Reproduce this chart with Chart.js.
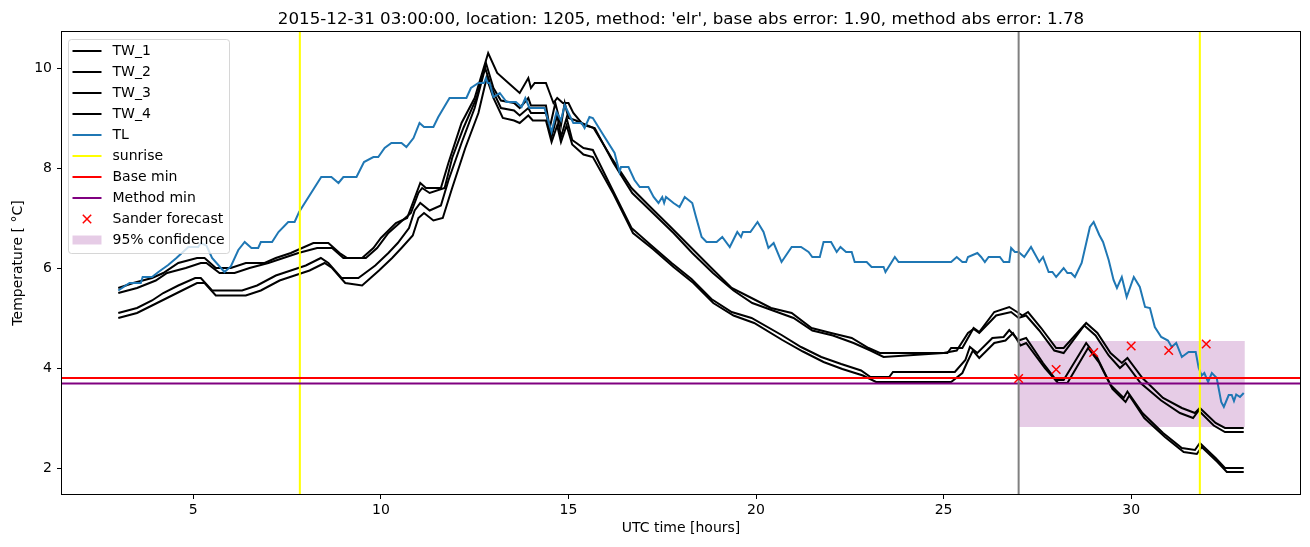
<!DOCTYPE html>
<html>
<head>
<meta charset="utf-8">
<title>TW / TL forecast 2015-12-31</title>
<script src="https://cdn.jsdelivr.net/npm/chart.js@4.4.1/dist/chart.umd.min.js"></script>
<style>
  body { margin: 0; background: #fff; }
  #wrap { width: 1310px; height: 547px; }
</style>
</head>
<body>
<div id="wrap"><canvas id="chart" width="1310" height="547"></canvas></div>
<script>
// titre et axes
const TITLE = "2015-12-31 03:00:00, location: 1205, method: 'elr', base abs error: 1.90, method abs error: 1.78";
const X_LABEL = "UTC time [hours]";
const Y_LABEL = "Temperature [ °C]";
const X_MIN = 1.5, X_MAX = 34.5;
const Y_MIN = 1.48, Y_MAX = 10.72;
const X_TICKS = [5, 10, 15, 20, 25, 30];
const Y_TICKS = [2, 4, 6, 8, 10];

// séries : [heure UTC, température]
const TW_1 = [[3.0,5.6],[3.4,5.7],[3.9,5.8],[4.2,5.9],[4.6,6.1],[5.1,6.2],[5.3,6.2],[5.6,6.0],[6.0,6.0],[6.4,6.1],[6.9,6.1],[7.2,6.2],[7.6,6.3],[7.9,6.4],[8.2,6.5],[8.6,6.5],[8.9,6.3],[9.1,6.2],[9.5,6.2],[9.8,6.4],[10.0,6.6],[10.4,6.9],[10.7,7.0],[10.9,7.4],[11.05,7.7],[11.2,7.6],[11.6,7.6],[11.8,8.1],[12.15,8.9],[12.5,9.4],[12.86,10.3],[13.1,9.9],[13.4,9.7],[13.7,9.5],[13.93,9.8],[14.0,9.6],[14.1,9.7],[14.4,9.7],[14.5,9.5],[14.6,9.3],[14.7,9.4],[14.85,9.3],[15.0,9.3],[15.13,9.1],[15.35,8.9],[15.67,8.8],[16.15,8.2],[16.68,7.6],[17.21,7.2],[17.75,6.8],[18.28,6.4],[18.81,6.0],[19.35,5.6],[19.88,5.4],[20.4,5.2],[20.95,5.1],[21.48,4.8],[22.0,4.7],[22.55,4.6],[23.0,4.4],[23.3,4.3],[25.1,4.3],[25.2,4.4],[25.5,4.4],[25.8,4.8],[25.95,4.72],[26.35,5.12],[26.75,5.22],[27.0,5.1],[27.1,5.05],[27.25,5.12],[27.6,4.8],[28.0,4.4],[28.2,4.4],[28.8,4.9],[29.1,4.7],[29.45,4.3],[29.75,4.1],[29.9,4.2],[30.3,3.8],[30.85,3.4],[31.35,3.2],[31.7,3.1],[31.83,3.2],[32.25,2.9],[32.5,2.8],[33.0,2.8]];
const TW_2 = [[3.0,5.5],[3.5,5.6],[4.0,5.75],[4.3,5.9],[4.8,6.0],[5.2,6.1],[5.35,6.1],[5.7,5.9],[6.1,5.9],[6.5,6.0],[7.0,6.1],[7.4,6.2],[7.8,6.3],[8.3,6.4],[8.7,6.4],[9.0,6.2],[9.6,6.2],[9.9,6.4],[10.2,6.7],[10.5,6.9],[10.8,7.1],[11.0,7.5],[11.1,7.6],[11.3,7.5],[11.7,7.6],[11.9,8.2],[12.2,8.8],[12.55,9.4],[12.8,10.1],[13.0,9.6],[13.2,9.35],[13.55,9.3],[13.7,9.2],[13.93,9.4],[14.0,9.25],[14.4,9.25],[14.5,8.8],[14.65,9.3],[14.8,8.85],[14.9,9.3],[15.0,9.0],[15.2,8.95],[15.45,8.85],[15.7,8.8],[16.2,8.1],[16.7,7.5],[17.25,7.1],[17.8,6.7],[18.3,6.3],[18.85,5.9],[19.4,5.55],[19.9,5.3],[20.45,5.15],[21.0,5.0],[21.5,4.75],[22.05,4.65],[22.6,4.5],[23.05,4.35],[23.4,4.22],[25.0,4.3],[25.35,4.35],[25.65,4.7],[25.8,4.78],[25.95,4.7],[26.4,5.05],[26.8,5.12],[27.0,5.0],[27.2,5.05],[27.55,4.75],[27.95,4.35],[28.2,4.3],[28.75,4.85],[29.05,4.65],[29.4,4.25],[29.7,4.0],[29.85,4.1],[30.25,3.7],[30.8,3.35],[31.3,3.1],[31.65,3.0],[31.8,3.15],[32.2,2.85],[32.5,2.72],[33.0,2.72]];
const TW_3 = [[3.0,5.1],[3.5,5.2],[3.9,5.35],[4.2,5.5],[4.6,5.65],[5.05,5.8],[5.2,5.8],[5.5,5.55],[6.3,5.55],[6.7,5.65],[7.2,5.85],[7.6,5.95],[8.0,6.05],[8.4,6.2],[8.6,6.1],[8.95,5.8],[9.4,5.8],[9.85,6.05],[10.2,6.3],[10.45,6.5],[10.75,6.8],[10.9,7.15],[11.05,7.3],[11.3,7.15],[11.6,7.25],[11.8,7.75],[12.15,8.5],[12.5,9.2],[12.78,10.0],[12.95,9.6],[13.2,9.2],[13.55,9.15],[13.7,9.05],[13.93,9.2],[14.0,9.1],[14.4,9.1],[14.55,8.62],[14.7,9.06],[14.8,8.62],[14.95,9.0],[15.1,8.56],[15.4,8.4],[15.65,8.36],[16.15,7.6],[16.68,6.8],[17.21,6.45],[17.75,6.1],[18.28,5.78],[18.81,5.38],[19.35,5.12],[19.88,5.0],[20.68,4.66],[21.2,4.42],[21.74,4.22],[22.27,4.08],[22.8,3.95],[23.05,3.82],[23.55,3.82],[23.65,3.92],[25.3,3.92],[25.58,4.16],[25.7,4.42],[25.9,4.3],[26.3,4.6],[26.6,4.62],[26.75,4.76],[27.0,4.55],[27.2,4.6],[27.65,4.1],[28.0,3.76],[28.2,3.76],[28.8,4.5],[29.1,4.2],[29.45,3.66],[29.8,3.4],[29.9,3.53],[30.3,3.1],[30.85,2.7],[31.35,2.4],[31.7,2.36],[31.83,2.5],[32.25,2.2],[32.5,2.0],[33.0,2.0]];
const TW_4 = [[3.0,5.0],[3.5,5.1],[3.9,5.25],[4.3,5.4],[4.7,5.55],[5.1,5.7],[5.3,5.7],[5.6,5.45],[6.4,5.45],[6.8,5.55],[7.3,5.75],[7.7,5.85],[8.1,5.95],[8.5,6.1],[8.7,6.0],[9.05,5.7],[9.5,5.65],[9.95,5.95],[10.3,6.2],[10.55,6.4],[10.85,6.65],[11.0,7.0],[11.15,7.1],[11.4,6.95],[11.65,7.0],[11.9,7.6],[12.25,8.4],[12.6,9.1],[12.82,9.8],[13.0,9.4],[13.25,9.0],[13.55,8.95],[13.7,8.9],[13.93,9.05],[14.05,8.95],[14.4,8.95],[14.55,8.52],[14.7,8.85],[14.8,8.52],[14.95,8.85],[15.1,8.47],[15.4,8.27],[15.65,8.22],[16.2,7.48],[16.72,6.7],[17.25,6.38],[17.8,6.02],[18.33,5.7],[18.86,5.3],[19.4,5.05],[19.95,4.9],[20.7,4.56],[21.25,4.33],[21.8,4.12],[22.3,3.98],[22.85,3.85],[23.2,3.72],[25.2,3.72],[25.5,3.9],[25.62,4.1],[25.78,4.35],[25.95,4.2],[26.35,4.5],[26.65,4.55],[26.85,4.7],[27.05,4.45],[27.2,4.5],[27.7,4.0],[28.05,3.7],[28.3,3.7],[28.85,4.4],[29.15,4.1],[29.5,3.58],[29.85,3.32],[29.95,3.45],[30.35,3.0],[30.9,2.62],[31.4,2.32],[31.75,2.28],[31.88,2.42],[32.3,2.12],[32.55,1.92],[33.0,1.92]];
const TL = [[3.0,5.55],[3.3,5.7],[3.6,5.7],[3.65,5.82],[3.9,5.82],[4.07,5.92],[4.33,6.06],[4.55,6.2],[4.87,6.42],[5.13,6.42],[5.2,6.5],[5.35,6.45],[5.5,6.2],[5.83,5.92],[6.0,6.03],[6.2,6.36],[6.37,6.52],[6.55,6.4],[6.73,6.4],[6.8,6.52],[7.1,6.52],[7.27,6.72],[7.53,6.92],[7.7,6.92],[7.82,7.12],[8.41,7.82],[8.68,7.82],[8.87,7.7],[9.0,7.82],[9.35,7.82],[9.55,8.12],[9.8,8.22],[9.93,8.22],[10.1,8.4],[10.28,8.5],[10.55,8.5],[10.68,8.42],[10.87,8.6],[11.03,8.9],[11.15,8.82],[11.4,8.82],[11.53,9.02],[11.83,9.4],[12.28,9.4],[12.4,9.6],[12.6,9.7],[12.75,9.7],[12.8,9.8],[12.85,9.7],[12.9,9.7],[13.0,9.42],[13.17,9.5],[13.35,9.32],[13.6,9.32],[13.75,9.22],[13.85,9.4],[13.96,9.2],[14.36,9.2],[14.55,8.72],[14.68,9.12],[14.8,8.95],[14.9,9.26],[15.0,9.1],[15.13,8.9],[15.35,8.9],[15.43,8.8],[15.56,9.02],[15.65,9.0],[15.88,8.72],[16.23,8.3],[16.36,7.92],[16.4,8.02],[16.6,8.02],[16.76,7.76],[16.9,7.62],[17.13,7.62],[17.27,7.42],[17.4,7.3],[17.5,7.42],[17.55,7.3],[17.6,7.42],[17.8,7.3],[17.96,7.22],[18.1,7.42],[18.3,7.3],[18.4,7.02],[18.55,6.62],[18.68,6.52],[18.95,6.52],[19.1,6.62],[19.3,6.42],[19.5,6.72],[19.6,6.62],[19.65,6.72],[19.85,6.72],[20.04,6.92],[20.2,6.72],[20.33,6.4],[20.47,6.5],[20.68,6.12],[20.95,6.42],[21.2,6.42],[21.4,6.32],[21.5,6.22],[21.7,6.22],[21.8,6.52],[22.0,6.52],[22.15,6.32],[22.25,6.42],[22.4,6.32],[22.55,6.32],[22.63,6.12],[22.95,6.12],[23.08,6.02],[23.4,6.02],[23.45,5.92],[23.7,6.22],[23.8,6.12],[25.2,6.12],[25.35,6.22],[25.5,6.12],[25.6,6.12],[25.65,6.22],[25.9,6.3],[26.0,6.22],[26.1,6.12],[26.2,6.22],[26.5,6.22],[26.6,6.12],[26.75,6.12],[26.8,6.4],[26.9,6.32],[27.0,6.32],[27.15,6.22],[27.33,6.42],[27.55,6.12],[27.65,6.22],[27.8,5.92],[27.9,5.92],[28.0,5.82],[28.2,6.0],[28.3,5.9],[28.4,5.9],[28.5,5.82],[28.68,6.1],[28.9,6.82],[29.0,6.92],[29.15,6.66],[29.25,6.52],[29.4,6.16],[29.53,5.76],[29.62,5.6],[29.75,5.82],[29.88,5.42],[30.07,5.82],[30.23,5.62],[30.37,5.22],[30.5,5.2],[30.63,4.82],[30.8,4.62],[30.98,4.55],[31.08,4.42],[31.2,4.5],[31.35,4.22],[31.53,4.32],[31.72,4.32],[31.8,4.0],[31.88,3.85],[31.95,3.9],[32.05,3.72],[32.15,3.9],[32.28,3.8],[32.4,3.32],[32.47,3.22],[32.6,3.46],[32.68,3.46],[32.74,3.34],[32.8,3.47],[32.9,3.42],[33.0,3.5]];

// repères
const SUNRISE_HOURS = [7.84, 31.83];
const FORECAST_START = 27.0;
const BASE_MIN = 3.8;
const METHOD_MIN = 3.69;
const SANDER_HOURS = [27, 28, 29, 30, 31, 32];
const SANDER_TEMPS = [3.79, 3.97, 4.31, 4.44, 4.35, 4.48];
const CONF_HOURS = [27.0, 33.03];
const CONF_LOW = 2.82, CONF_HIGH = 4.54;

const pts = arr => arr.map(p => ({ x: p[0], y: p[1] }));

function vlines(hours) {
  const out = [];
  hours.forEach((h, i) => {
    if (i > 0) out.push({ x: h, y: null });
    out.push({ x: h, y: Y_MIN }, { x: h, y: Y_MAX });
  });
  return out;
}

function hline(v) {
  return [{ x: X_MIN, y: v }, { x: X_MAX, y: v }];
}

const lineDs = (label, data, color, order, handle) => ({
  label: label, data: data, borderColor: color, backgroundColor: color,
  borderWidth: 2, pointRadius: 0, fill: false, spanGaps: false,
  order: order, handle: handle
});

const datasets = [
  lineDs('TW_1', pts(TW_1), '#000000', 90, 'line'),
  lineDs('TW_2', pts(TW_2), '#000000', 89, 'line'),
  lineDs('TW_3', pts(TW_3), '#000000', 88, 'line'),
  lineDs('TW_4', pts(TW_4), '#000000', 87, 'line'),
  lineDs('TL', pts(TL), '#1f77b4', 80, 'line'),
  lineDs('sunrise', vlines(SUNRISE_HOURS), '#ffff00', 70, 'line'),
  lineDs('Base min', hline(BASE_MIN), '#ff0000', 60, 'line'),
  lineDs('Method min', hline(METHOD_MIN), '#800080', 55, 'line'),
  {
    label: 'Sander forecast',
    data: SANDER_HOURS.map((h, i) => ({ x: h, y: SANDER_TEMPS[i] })),
    showLine: false, pointStyle: 'crossRot', pointRadius: 6,
    pointBorderColor: '#ff0000', pointBorderWidth: 1.5, borderColor: '#ff0000',
    order: 40, handle: 'marker'
  },
  {
    label: '95% confidence',
    data: CONF_HOURS.map(h => ({ x: h, y: CONF_HIGH })),
    borderColor: 'transparent', borderWidth: 0, pointRadius: 0,
    backgroundColor: 'rgba(128,0,128,0.2)', fill: { value: CONF_LOW },
    order: 100, handle: 'patch'
  },
  lineDs('', vlines([FORECAST_START]), '#808080', 50, null)
];

// cadre de l'axe (4 côtés comme matplotlib)
const frame = {
  id: 'frame',
  afterDatasetsDraw(chart) {
    const { ctx, chartArea: a } = chart;
    ctx.save();
    ctx.strokeStyle = '#000';
    ctx.lineWidth = 1;
    ctx.strokeRect(Math.round(a.left) - 0.5, Math.round(a.top) - 0.5,
      Math.round(a.right - a.left) + 1, Math.round(a.bottom - a.top) + 1);
    ctx.restore();
  }
};

// titre centré sur la zone de tracé
const axTitle = {
  id: 'axTitle',
  afterDraw(chart) {
    const { ctx, chartArea: a } = chart;
    ctx.save();
    ctx.font = '16.7px "DejaVu Sans"';
    ctx.fillStyle = '#000';
    ctx.textAlign = 'center';
    ctx.textBaseline = 'alphabetic';
    ctx.fillText(TITLE, (a.left + a.right) / 2, a.top - 8.5);
    ctx.restore();
  }
};

// légende dans le coin haut gauche
const mplLegend = {
  id: 'mplLegend',
  afterDraw(chart) {
    const { ctx, chartArea: a } = chart;
    const items = chart.data.datasets.filter(d => d.handle);
    const x0 = a.left + 6.5, y0 = a.top + 7.5, w = 161, h = 214, row = 21;
    ctx.save();
    ctx.beginPath();
    ctx.roundRect(x0, y0, w, h, 3);
    ctx.fillStyle = 'rgba(255,255,255,0.8)';
    ctx.fill();
    ctx.strokeStyle = 'rgba(204,204,204,0.8)';
    ctx.lineWidth = 1;
    ctx.stroke();
    ctx.font = '14px "DejaVu Sans"';
    ctx.textBaseline = 'middle';
    items.forEach((d, i) => {
      const cy = y0 + 11.5 + i * row;
      const hx0 = x0 + 4, hx1 = x0 + 33, cx = (hx0 + hx1) / 2;
      if (d.handle === 'line') {
        ctx.strokeStyle = d.borderColor;
        ctx.lineWidth = 2;
        ctx.beginPath();
        ctx.moveTo(hx0, cy);
        ctx.lineTo(hx1, cy);
        ctx.stroke();
      } else if (d.handle === 'marker') {
        const r = 4.2;
        ctx.strokeStyle = d.pointBorderColor;
        ctx.lineWidth = 1.5;
        ctx.beginPath();
        ctx.moveTo(cx - r, cy - r); ctx.lineTo(cx + r, cy + r);
        ctx.moveTo(cx + r, cy - r); ctx.lineTo(cx - r, cy + r);
        ctx.stroke();
      } else {
        ctx.fillStyle = d.backgroundColor;
        ctx.fillRect(hx0, cy - 4.5, hx1 - hx0, 9);
      }
      ctx.fillStyle = '#000';
      ctx.fillText(d.label, x0 + 44, cy + 0.5);
    });
    ctx.restore();
  }
};

Chart.defaults.font.family = '"DejaVu Sans"';
Chart.defaults.color = '#000';

const ctx = document.getElementById('chart').getContext('2d');
const chart = new Chart(ctx, {
  type: 'line',
  data: { datasets: datasets },
  options: {
    responsive: false,
    animation: false,
    devicePixelRatio: 1,
    layout: { padding: { top: 32, right: 10, left: 0, bottom: 0 } },
    plugins: {
      legend: { display: false },
      title: { display: false },
      tooltip: { enabled: false }
    },
    scales: {
      x: {
        type: 'linear', min: X_MIN, max: X_MAX,
        afterBuildTicks: s => { s.ticks = X_TICKS.map(v => ({ value: v })); },
        afterFit: s => { s.height = 53; },
        border: { display: false },
        grid: { drawOnChartArea: false, drawTicks: true, tickLength: 5, tickColor: '#000', tickWidth: 1 },
        ticks: { font: { size: 14 }, color: '#000', padding: 3, maxRotation: 0 },
        title: { display: true, text: X_LABEL, font: { size: 14 }, color: '#000', padding: { top: 0, bottom: 10 } }
      },
      y: {
        type: 'linear', min: Y_MIN, max: Y_MAX,
        afterBuildTicks: s => { s.ticks = Y_TICKS.map(v => ({ value: v })); },
        afterFit: s => { s.width = 62; },
        border: { display: false },
        grid: { drawOnChartArea: false, drawTicks: true, tickLength: 5, tickColor: '#000', tickWidth: 1 },
        ticks: { font: { size: 14 }, color: '#000', padding: 5 },
        title: { display: true, text: Y_LABEL, font: { size: 14 }, color: '#000', padding: { top: 10, bottom: 0 } }
      }
    }
  },
  plugins: [frame, axTitle, mplLegend]
});
</script>
</body>
</html>
